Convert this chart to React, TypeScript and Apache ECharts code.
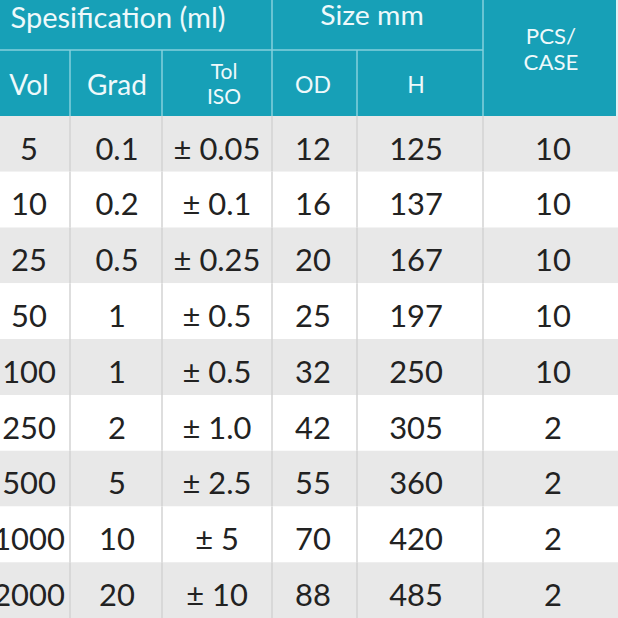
import React, { useEffect, useRef } from "react";
import * as echarts from "echarts";

// ---- data ----
const volumes = ["5", "10", "25", "50", "100", "250", "500", "1000", "2000"];
const grads = ["0.1", "0.2", "0.5", "1", "1", "2", "5", "10", "20"];
const tolerances = ["± 0.05", "± 0.1", "± 0.25", "± 0.5", "± 0.5", "± 1.0", "± 2.5", "± 5", "± 10"];
const outerDiameters = ["12", "16", "20", "25", "32", "42", "55", "70", "88"];
const heights = ["125", "137", "167", "197", "250", "305", "360", "420", "485"];
const pcsPerCase = ["10", "10", "10", "10", "10", "2", "2", "2", "2"];

const groupHeaders = ["Spesification (ml)", "Size mm"];
const subHeaders = ["Vol", "Grad", "Tol\nISO", "OD", "H"];
const pcsHeaderLines = ["PCS/", "CASE"];

// ---- layout / style ----
const W = 618;
const HEADER_H = 116;
const ROW_H = 56.5;
const COL_EDGES = [0, 70, 162, 272, 357, 483, W];
const TEXT_X = [29, 117, 217, 313, 416, 553];
const TEAL = "#17a0b7";
const HEAD_LINE = "#86d0dc";
const HEAD_TEXT = "#eef9fb";
const GREY_ROW = "#e8e8e8";
const BODY_LINE = "#d3d3d3";
const BODY_TEXT = "#222222";
const FONT = "Lato";

export default function App() {
  const ref = useRef<HTMLDivElement>(null);

  useEffect(() => {
    document.body.style.margin = "0";
    if (!ref.current) return;
    const chart = echarts.init(ref.current, null, { renderer: "svg" });

    const columns = [volumes, grads, tolerances, outerDiameters, heights, pcsPerCase];

    const renderItem = (params: any, api: any) => {
      const i = params.dataIndex;
      const c = api.coord([0, i]);
      const bandH = api.size([0, 1])[1];
      const y0 = c[1] - bandH / 2;
      const children: any[] = [];
      const left = api.coord([COL_EDGES[0], i])[0];
      const right = api.coord([COL_EDGES[COL_EDGES.length - 1], i])[0];
      children.push({
        type: "rect",
        shape: { x: left, y: y0, width: right - left, height: bandH },
        style: { fill: i % 2 === 0 ? GREY_ROW : "#ffffff" },
      });
      for (let k = 1; k < COL_EDGES.length - 1; k++) {
        const x = api.coord([COL_EDGES[k], i])[0];
        children.push({
          type: "line",
          shape: { x1: x, y1: y0, x2: x, y2: y0 + bandH },
          style: { stroke: BODY_LINE, lineWidth: 1.5 },
        });
      }
      columns.forEach((col, k) => {
        const x = api.coord([TEXT_X[k], i])[0];
        children.push({
          type: "text",
          x,
          y: c[1] + 4,
          scaleX: 1.03,
          style: {
            text: col[i],
            fontSize: 30,
            fontFamily: FONT,
            fill: BODY_TEXT,
            align: "center",
            verticalAlign: "middle",
            lineHeight: 30,
          },
        });
      });
      return { type: "group", children };
    };

    const headerTextStyle = (size: number, lh?: number) => ({
      fontSize: size,
      fontFamily: FONT,
      fill: HEAD_TEXT,
      align: "center",
      verticalAlign: "middle",
      lineHeight: lh ?? size,
    });

    const subY = [84, 84, 83, 84, 84];
    const subSize = [28, 28, 21, 23, 23];

    const graphic: any[] = [
      { type: "rect", shape: { x: 0, y: 0, width: 616, height: HEADER_H }, style: { fill: TEAL }, silent: true },
      { type: "rect", shape: { x: 616, y: 0, width: 2, height: HEADER_H }, style: { fill: "#dff1f4" }, silent: true },
      { type: "line", shape: { x1: 0, y1: 50, x2: COL_EDGES[5], y2: 50 }, style: { stroke: HEAD_LINE, lineWidth: 1.5 }, silent: true },
      ...[3, 5].map((k) => ({
        type: "line",
        shape: { x1: COL_EDGES[k], y1: 0, x2: COL_EDGES[k], y2: HEADER_H },
        style: { stroke: HEAD_LINE, lineWidth: 1.5 },
        silent: true,
      })),
      ...[1, 2, 4].map((k) => ({
        type: "line",
        shape: { x1: COL_EDGES[k], y1: 50, x2: COL_EDGES[k], y2: HEADER_H },
        style: { stroke: HEAD_LINE, lineWidth: 1.5 },
        silent: true,
      })),
      {
        type: "text",
        x: 118,
        y: 16,
        silent: true,
        style: { text: groupHeaders[0], ...headerTextStyle(29, 24) },
      },
      {
        type: "text",
        x: 372,
        y: 15,
        scaleX: 1.05,
        silent: true,
        style: { text: groupHeaders[1], ...headerTextStyle(27) },
      },
      ...subHeaders.map((t, k) => ({
        type: "text",
        x: TEXT_X[k] + (k === 2 ? 7 : 0),
        y: subY[k],
        silent: true,
        style: { text: t, ...headerTextStyle(subSize[k], k === 2 ? 25 : undefined) },
      })),
      ...pcsHeaderLines.map((t, k) => ({
        type: "text",
        x: 551,
        y: 36 + k * 26,
        scaleX: 1.06,
        silent: true,
        style: { text: t, ...headerTextStyle(21, 21) },
      })),
    ];

    chart.setOption({
      animation: false,
      grid: { left: 0, top: HEADER_H, width: W, height: ROW_H * volumes.length },
      xAxis: { type: "value", min: 0, max: W, show: false },
      yAxis: { type: "category", data: volumes, inverse: true, show: false },
      series: [
        {
          type: "custom",
          silent: true,
          clip: false,
          data: volumes.map((_, i) => [0, i]),
          encode: { x: 0, y: 1 },
          renderItem,
        },
      ],
      graphic,
    });

    return () => chart.dispose();
  }, []);

  return <div ref={ref} style={{ width: 618, height: 618 }} />;
}
